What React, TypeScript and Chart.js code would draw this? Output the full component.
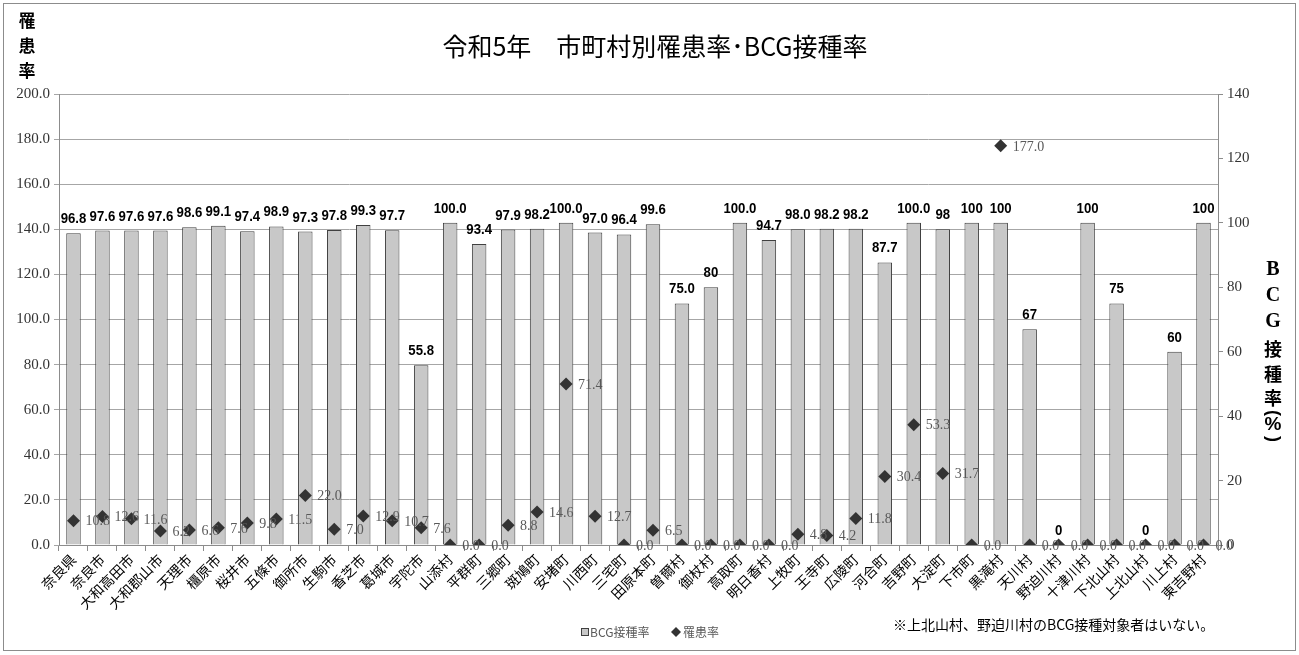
import React, { useEffect, useRef } from "react";
import { Chart, registerables } from "chart.js";

Chart.register(...registerables);

const categories = [
  "奈良県", "奈良市", "大和高田市", "大和郡山市", "天理市", "橿原市", "桜井市", "五條市", "御所市", "生駒市",
  "香芝市", "葛城市", "宇陀市", "山添村", "平群町", "三郷町", "斑鳩町", "安堵町", "川西町", "三宅町",
  "田原本町", "曽爾村", "御杖村", "高取町", "明日香村", "上牧町", "王寺町", "広陵町", "河合町", "吉野町",
  "大淀町", "下市町", "黒滝村", "天川村", "野迫川村", "十津川村", "下北山村", "上北山村", "川上村", "東吉野村",
];

const bcgRate = [
  96.8, 97.6, 97.6, 97.6, 98.6, 99.1, 97.4, 98.9, 97.3, 97.8,
  99.3, 97.7, 55.8, 100.0, 93.4, 97.9, 98.2, 100.0, 97.0, 96.4,
  99.6, 75.0, 80, 100.0, 94.7, 98.0, 98.2, 98.2, 87.7, 100.0,
  98, 100, 100, 67, 0, 100, 75, 0, 60, 100,
];

const bcgLabels = [
  "96.8", "97.6", "97.6", "97.6", "98.6", "99.1", "97.4", "98.9", "97.3", "97.8",
  "99.3", "97.7", "55.8", "100.0", "93.4", "97.9", "98.2", "100.0", "97.0", "96.4",
  "99.6", "75.0", "80", "100.0", "94.7", "98.0", "98.2", "98.2", "87.7", "100.0",
  "98", "100", "100", "67", "0", "100", "75", "0", "60", "100",
];

const incidence = [
  10.8, 12.6, 11.6, 6.2, 6.6, 7.6, 9.8, 11.5, 22.0, 7.0,
  12.9, 10.7, 7.6, 0.0, 0.0, 8.8, 14.6, 71.4, 12.7, 0.0,
  6.5, 0.0, 0.0, 0.0, 0.0, 4.8, 4.2, 11.8, 30.4, 53.3,
  31.7, 0.0, 177.0, 0.0, 0.0, 0.0, 0.0, 0.0, 0.0, 0.0,
];

const leftTicks = { min: 0, max: 200, step: 20 };
const rightTicks = { min: 0, max: 140, step: 20 };

const titleText = "令和5年　市町村別罹患率･BCG接種率";
const leftAxisTitle = ["罹", "患", "率"];
const rightAxisTitle = ["B", "C", "G", "接", "種", "率", "(", "%", ")"];
const legendBar = "BCG接種率";
const legendPoint = "罹患率";
const noteText = "※上北山村、野迫川村のBCG接種対象者はいない。";

const CJK = '"Noto Sans CJK JP", sans-serif';
const SERIF = '"Liberation Serif", "DejaVu Serif", serif';
const SANS = '"Liberation Sans", "DejaVu Sans", sans-serif';

const extrasPlugin = {
  id: "extras",
  beforeDraw(chart: any) {
    const ctx = chart.ctx;
    ctx.save();
    ctx.fillStyle = "#ffffff";
    ctx.fillRect(0, 0, chart.width, chart.height);
    ctx.strokeStyle = "#8c8c8c";
    ctx.lineWidth = 1;
    ctx.strokeRect(3.5, 3.5, 1292, 647);
    ctx.restore();
  },
  afterDatasetsDraw(chart: any) {
    const ctx = chart.ctx;
    const barMeta = chart.getDatasetMeta(0);
    barMeta.data.forEach((el: any, i: number) => {
      ctx.save();
      ctx.translate(el.x, el.y - 10);
      ctx.scale(0.88, 1);
      ctx.font = `bold 15px ${SANS}`;
      ctx.fillStyle = "#000";
      ctx.textAlign = "center";
      ctx.textBaseline = "alphabetic";
      ctx.fillText(bcgLabels[i], 0, 0);
      ctx.restore();
    });
    ctx.save();
    const ptMeta = chart.getDatasetMeta(1);
    ctx.font = `14px ${SERIF}`;
    ctx.fillStyle = "#595959";
    ctx.textAlign = "left";
    ctx.textBaseline = "middle";
    ptMeta.data.forEach((el: any, i: number) => {
      ctx.fillText(incidence[i].toFixed(1), el.x + 12, el.y + 1);
    });
    ctx.restore();
  },
  afterDraw(chart: any) {
    const ctx = chart.ctx;
    ctx.save();
    ctx.fillStyle = "#000";
    ctx.font = `25px ${CJK}`;
    ctx.textAlign = "center";
    ctx.textBaseline = "middle";
    ctx.fillText(titleText, 655, 46);
    ctx.font = `bold 17px ${CJK}`;
    leftAxisTitle.forEach((c, i) => ctx.fillText(c, 27, 21 + i * 25));
    // right axis title, stacked vertically
    const ys = [270, 296, 322, 349, 374, 398, 413, 425, 439];
    rightAxisTitle.forEach((c, i) => {
      if (c === "(" || c === ")") {
        ctx.save();
        ctx.translate(1273, ys[i]);
        ctx.rotate(Math.PI / 2);
        ctx.font = `bold 18px ${SANS}`;
        ctx.fillText(c, 0, 0);
        ctx.restore();
      } else if (/[A-Z]/.test(c)) {
        ctx.font = `bold 20px ${SERIF}`;
        ctx.fillText(c, 1273, ys[i]);
      } else if (c === "%") {
        ctx.font = `bold 19px ${SANS}`;
        ctx.fillText(c, 1273, ys[i]);
      } else {
        ctx.font = `bold 18px ${CJK}`;
        ctx.fillText(c, 1273, ys[i]);
      }
    });
    // legend
    ctx.font = `12px ${CJK}`;
    ctx.textAlign = "left";
    ctx.fillStyle = "#c8c8c8";
    ctx.fillRect(581.5, 628.5, 7, 7);
    ctx.strokeStyle = "#404040";
    ctx.lineWidth = 1;
    ctx.strokeRect(581.5, 628.5, 7, 7);
    ctx.fillStyle = "#595959";
    ctx.fillText(legendBar, 590, 632);
    const dx = 676, dy = 632;
    ctx.fillStyle = "#333";
    ctx.beginPath();
    ctx.moveTo(dx, dy - 5);
    ctx.lineTo(dx + 5, dy);
    ctx.lineTo(dx, dy + 5);
    ctx.lineTo(dx - 5, dy);
    ctx.closePath();
    ctx.fill();
    ctx.fillStyle = "#595959";
    ctx.fillText(legendPoint, 683, 632);
    ctx.fillStyle = "#000";
    ctx.font = `14px ${CJK}`;
    ctx.fillText(noteText, 893, 625);
    ctx.restore();
  },
};

export default function App() {
  const ref = useRef<HTMLCanvasElement>(null);
  useEffect(() => {
    if (!ref.current) return;
    const chart = new Chart(ref.current, {
      type: "bar",
      data: {
        labels: categories,
        datasets: [
          {
            type: "bar",
            label: legendBar,
            data: bcgRate,
            yAxisID: "y1",
            backgroundColor: "#c8c8c8",
            borderColor: "#404040",
            borderWidth: 1,
            barPercentage: 0.5,
            categoryPercentage: 1.0,
            order: 2,
          },
          {
            type: "line",
            label: legendPoint,
            data: incidence,
            yAxisID: "y",
            showLine: false,
            pointStyle: "rectRot",
            pointRadius: 6.5,
            backgroundColor: "#333333",
            borderColor: "#333333",
            borderWidth: 0,
            order: 1,
          },
        ] as any,
      },
      options: {
        responsive: false,
        animation: false,
        events: [],
        layout: { padding: { top: 94, left: 0, right: 0, bottom: 0 } },
        plugins: {
          legend: { display: false },
          title: { display: false },
          tooltip: { enabled: false },
        },
        scales: {
          x: {
            grid: { offset: true, drawOnChartArea: false, drawTicks: true, tickLength: 6, color: "#8c8c8c" },
            border: { color: "#8c8c8c" },
            ticks: {
              autoSkip: false,
              minRotation: 45,
              maxRotation: 45,
              padding: 0,
              color: "#000",
              font: { family: CJK, size: 14 },
            },
            afterFit: (s: any) => { s.height = 110; },
          },
          y: {
            position: "left",
            min: leftTicks.min,
            max: leftTicks.max,
            ticks: {
              stepSize: leftTicks.step,
              callback: (v: any) => Number(v).toFixed(1),
              color: "#333",
              padding: 4,
              font: { family: SERIF, size: 15 },
            },
            grid: { color: "#a6a6a6", tickLength: 5 },
            border: { color: "#8c8c8c" },
            afterFit: (s: any) => { s.width = 59; },
          },
          y1: {
            position: "right",
            min: rightTicks.min,
            max: rightTicks.max,
            ticks: {
              stepSize: rightTicks.step,
              color: "#333",
              padding: 4,
              font: { family: SERIF, size: 15 },
            },
            grid: { drawOnChartArea: false, tickLength: 5, color: "#8c8c8c" },
            border: { color: "#8c8c8c" },
            afterFit: (s: any) => { s.width = 81; },
          },
        } as any,
      },
      plugins: [extrasPlugin],
    });
    return () => chart.destroy();
  }, []);
  return (
    <div style={{ position: "absolute", left: 0, top: 0, width: 1299, height: 655 }}>
      <canvas ref={ref} width={1299} height={655} style={{ display: "block" }} />
    </div>
  );
}
